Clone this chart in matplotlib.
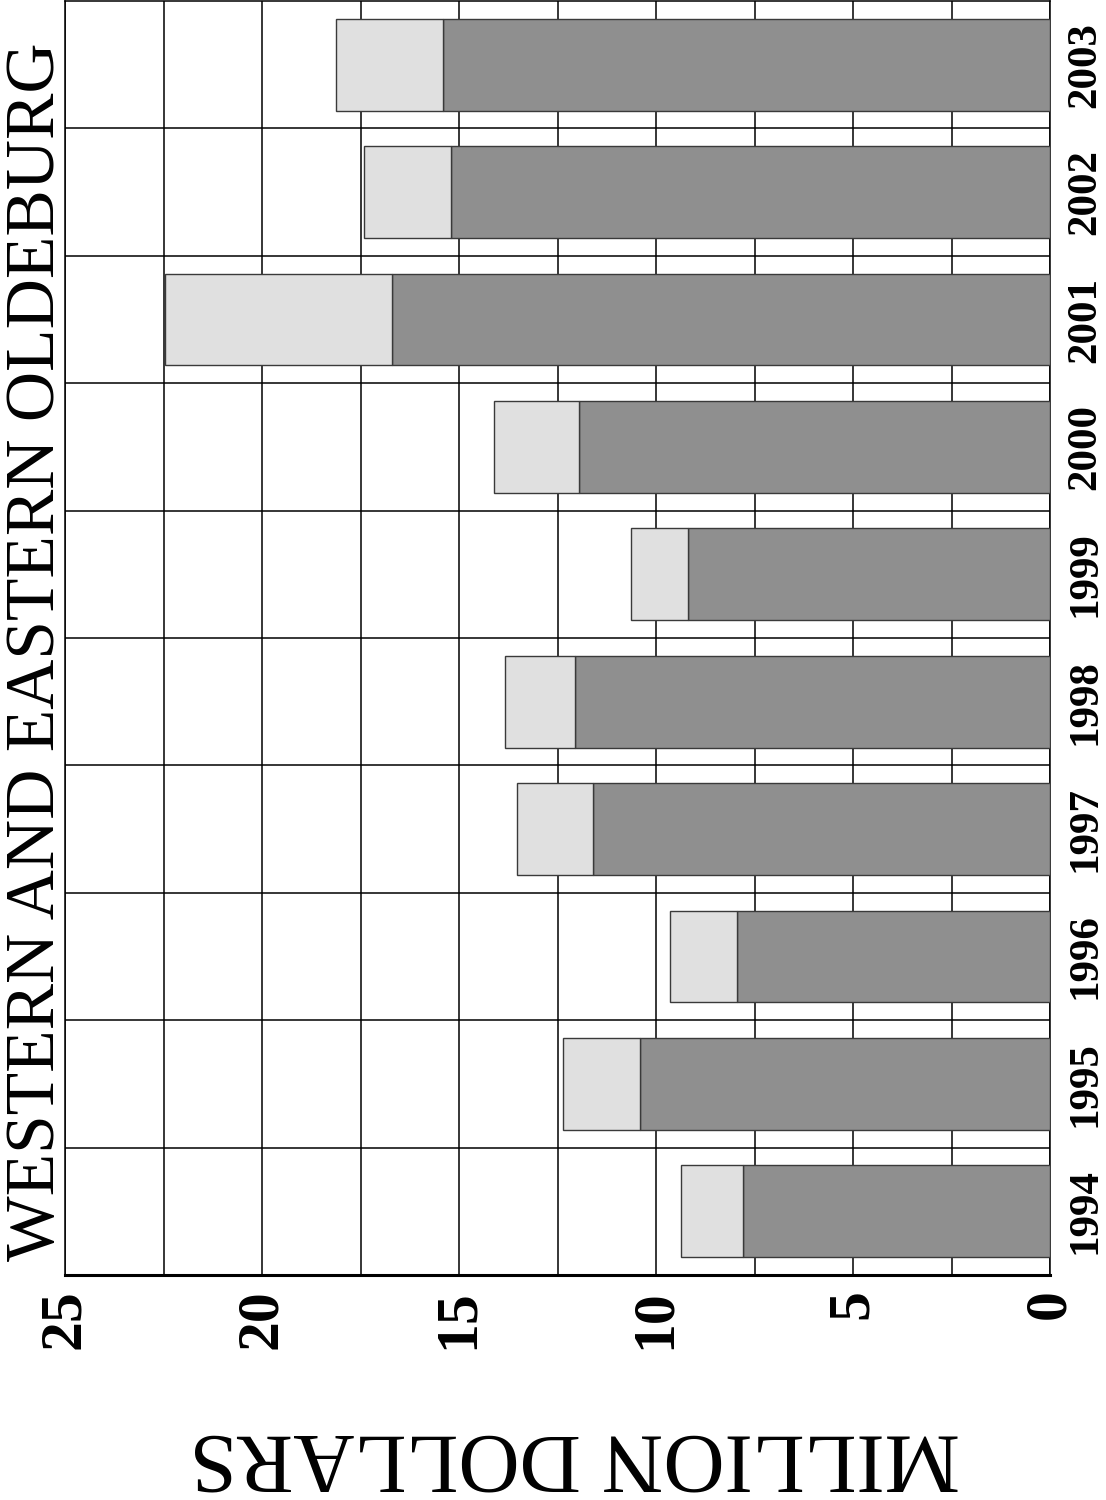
import numpy as np
import matplotlib.pyplot as plt
from matplotlib.ticker import MultipleLocator, FixedLocator

# Daten (Millionen Dollar)
jahre = ['1994', '1995', '1996', '1997', '1998', '1999', '2000', '2001', '2002', '2003']
dunkel = [7.8, 10.4, 7.95, 11.6, 12.05, 9.2, 11.95, 16.7, 15.2, 15.4]
hell = [1.57, 1.95, 1.7, 1.93, 1.77, 1.43, 2.17, 5.76, 2.2, 2.73]

plt.rcParams['font.family'] = ['Liberation Serif', 'DejaVu Serif']

fig = plt.figure(figsize=(11.06, 15), dpi=100)
ax = fig.add_axes([65 / 1106, 225 / 1500, 985 / 1106, 1274 / 1500])

y = np.arange(len(jahre))
ax.barh(y, dunkel, height=0.72, color='#8f8f8f', edgecolor='#3a3a3a', linewidth=1.0, zorder=3)
ax.barh(y, hell, left=dunkel, height=0.72, color='#e0e0e0', edgecolor='#3a3a3a', linewidth=1.0, zorder=3)

ax.set_xlim(25, 0)
ax.set_ylim(-0.5, len(jahre) - 0.5)

# Gitter
ax.xaxis.set_major_locator(MultipleLocator(5))
ax.xaxis.set_minor_locator(MultipleLocator(2.5))
ax.yaxis.set_major_locator(FixedLocator(y))
ax.yaxis.set_minor_locator(FixedLocator(np.arange(0.5, len(jahre) - 0.5, 1)))
ax.grid(True, which='minor', axis='both', color='black', linewidth=1.1, zorder=1)
ax.grid(True, which='major', axis='x', color='black', linewidth=1.1, zorder=1)
ax.set_axisbelow(True)

ax.set_xticks([0, 5, 10, 15, 20, 25])
ax.set_xticklabels(['0', '5', '10', '15', '20', '25'], rotation=90,
                   fontsize=43, fontweight='bold', va='top', ha='center')
ax.yaxis.tick_right()
ax.set_yticks(y)
ax.set_yticklabels(jahre, rotation=90, fontsize=31, fontweight='bold', va='center')
ax.tick_params(axis='both', which='both', length=0)
ax.tick_params(axis='x', pad=10)
ax.tick_params(axis='y', pad=12)

for s in ax.spines.values():
    s.set_linewidth(1.1)
ax.spines['bottom'].set_linewidth(2.2)

fig.text(37 / 1106, 1 - 652 / 1500, 'WESTERN AND EASTERN OLDEBURG', rotation=90,
         fontsize=50, ha='center', va='center')
fig.text(575 / 1106, 1 - 1455 / 1500, 'MILLION DOLLARS', rotation=180,
         fontsize=61, ha='center', va='center')

plt.savefig('out.png', dpi=100)
